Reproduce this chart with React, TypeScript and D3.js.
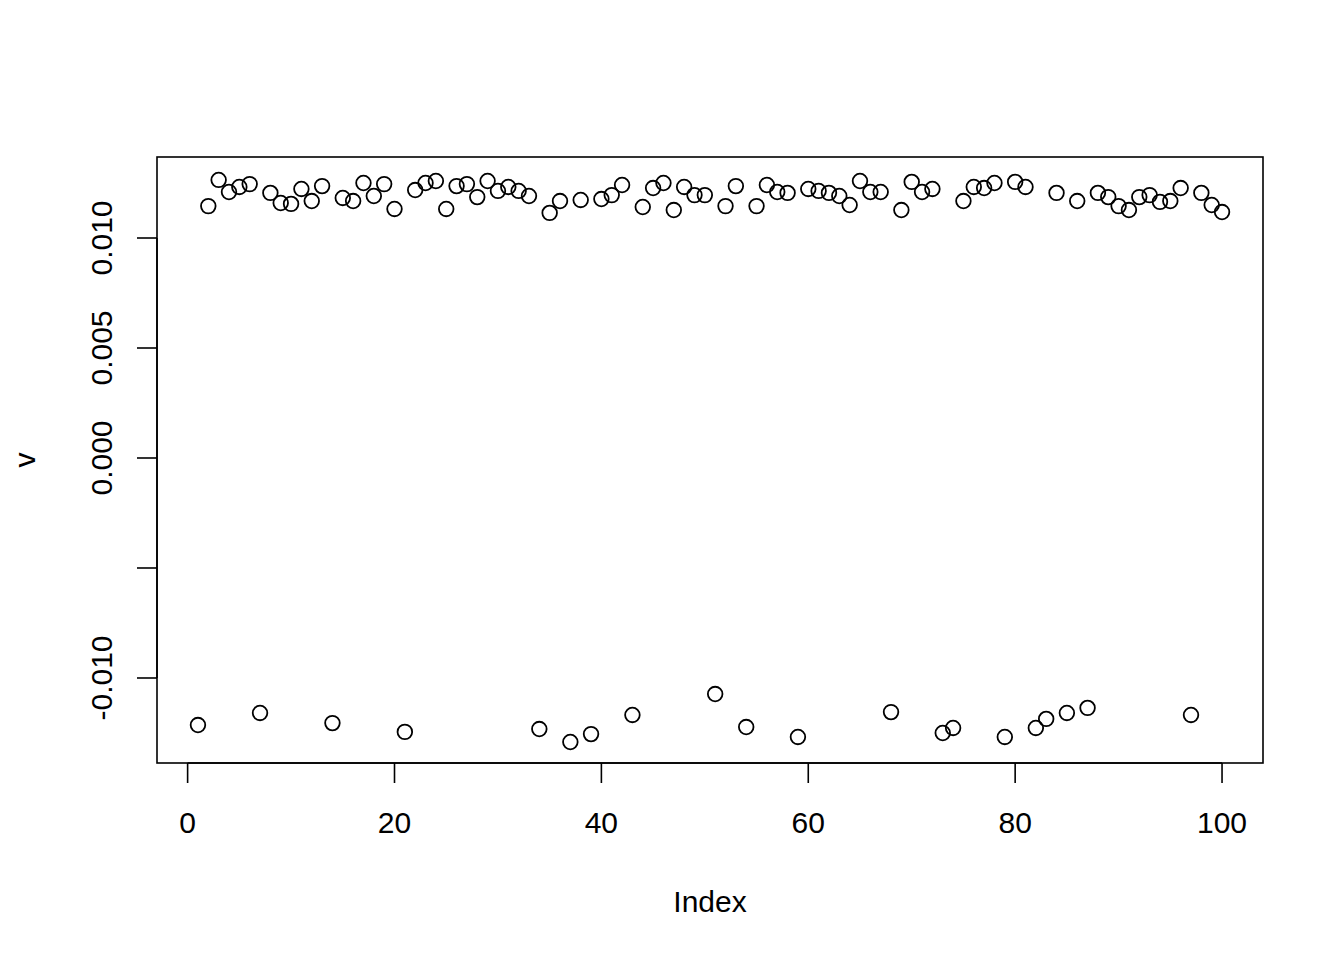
import React from "react";
import * as d3 from "d3";

const index: number[] = d3.range(1, 101);
const v: number[] = [
  -0.01214, 0.01145, 0.01264, 0.01209, 0.01232, 0.01245, -0.01159, 0.01205, 0.01159, 0.01155,
  0.01223, 0.01168, 0.01236, -0.01205, 0.01182, 0.01168, 0.0125, 0.01191, 0.01245, 0.01132,
  -0.01245, 0.01218, 0.0125, 0.01259, 0.01132, 0.01236, 0.01245, 0.01186, 0.01259, 0.01214,
  0.01232, 0.01214, 0.01191, -0.01232, 0.01114, 0.01168, -0.01291, 0.01173, -0.01255, 0.01177,
  0.01195, 0.01241, -0.01168, 0.01141, 0.01227, 0.0125, 0.01127, 0.01232, 0.01195, 0.01195,
  -0.01073, 0.01145, 0.01236, -0.01223, 0.01145, 0.01241, 0.01209, 0.01205, -0.01268, 0.01223,
  0.01214, 0.01205, 0.01191, 0.0115, 0.01259, 0.01209, 0.01209, -0.01155, 0.01127, 0.01255,
  0.01209, 0.01223, -0.0125, -0.01227, 0.01168, 0.01232, 0.01227, 0.0125, -0.01268, 0.01255,
  0.01232, -0.01227, -0.01186, 0.01205, -0.01159, 0.01168, -0.01136, 0.01205, 0.01186, 0.01145,
  0.01127, 0.01186, 0.01195, 0.01164, 0.01168, 0.01227, -0.01168, 0.01205, 0.0115, 0.01118,
];
const xTicks: number[] = [0, 20, 40, 60, 80, 100];
const yTicks: number[] = [-0.01, -0.005, 0, 0.005, 0.01];
const yTickLabels: string[] = ["-0.010", "", "0.000", "0.005", "0.010"];
const xLabel = "Index";
const yLabel = "v";

export default function App() {
  const W = 1344, H = 960;
  const left = 157, right = 1263, top = 157, bottom = 763;
  const x = d3.scaleLinear().domain([-2.96, 103.96]).range([left, right]);
  const y = d3.scaleLinear().domain([-0.013864, 0.013682]).range([bottom, top]);
  const font = "'Liberation Sans', Arial, Helvetica, sans-serif";
  const fs = 30;
  const sw = 1.6;
  return (
    <svg width={W} height={H} style={{ position: "absolute", left: 0, top: 0, background: "#fff" }}>
      <rect x={left} y={top} width={right - left} height={bottom - top} fill="none" stroke="#000" strokeWidth={sw} />
      {/* x axis */}
      <line x1={x(xTicks[0])} x2={x(xTicks[xTicks.length - 1])} y1={bottom} y2={bottom} stroke="#000" strokeWidth={sw} />
      {xTicks.map((t) => (
        <g key={"xt" + t}>
          <line x1={x(t)} x2={x(t)} y1={bottom} y2={bottom + 20} stroke="#000" strokeWidth={sw} />
          <text x={x(t)} y={833} textAnchor="middle" fontFamily={font} fontSize={fs}>{t}</text>
        </g>
      ))}
      {/* y axis */}
      <line x1={left} x2={left} y1={y(yTicks[0])} y2={y(yTicks[yTicks.length - 1])} stroke="#000" strokeWidth={sw} />
      {yTicks.map((t, i) => (
        <g key={"yt" + i}>
          <line x1={left - 20} x2={left} y1={y(t)} y2={y(t)} stroke="#000" strokeWidth={sw} />
          {yTickLabels[i] && (
            <text transform={`translate(112,${y(t)}) rotate(-90)`} textAnchor="middle" fontFamily={font} fontSize={fs}>
              {yTickLabels[i]}
            </text>
          )}
        </g>
      ))}
      <text x={(left + right) / 2} y={912} textAnchor="middle" fontFamily={font} fontSize={fs}>{xLabel}</text>
      <text transform={`translate(35,${(top + bottom) / 2}) rotate(-90)`} textAnchor="middle" fontFamily={font} fontSize={fs}>{yLabel}</text>
      {v.map((val, i) => (
        <circle key={i} cx={x(index[i])} cy={y(val)} r={7.3} fill="none" stroke="#000" strokeWidth={1.8} />
      ))}
    </svg>
  );
}
